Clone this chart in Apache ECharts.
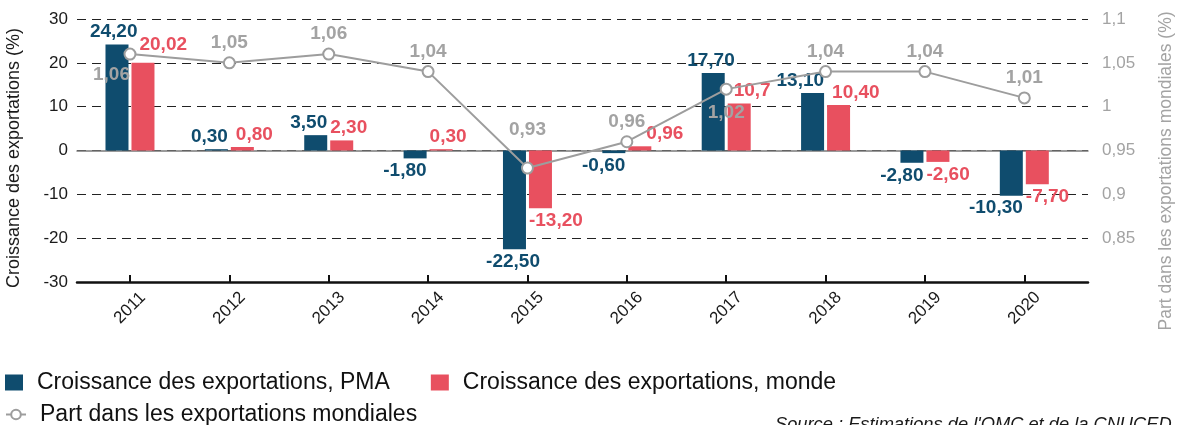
<!DOCTYPE html>
<html>
<head>
<meta charset="utf-8">
<script src="https://cdn.jsdelivr.net/npm/echarts@6/dist/echarts.min.js"></script>
<style>
html,body{margin:0;padding:0;background:#fff;}
#chart{width:1184px;height:425px;}
</style>
</head>
<body>
<div id="chart"></div>
<script>
const years = ['2011','2012','2013','2014','2015','2016','2017','2018','2019','2020'];
const pmaGrowth = [24.20, 0.30, 3.50, -1.80, -22.50, -0.60, 17.70, 13.10, -2.80, -10.30];
const worldGrowth = [20.02, 0.80, 2.30, 0.30, -13.20, 0.96, 10.7, 10.40, -2.60, -7.70];
const worldGrowthText = ['20,02','0,80','2,30','0,30','-13,20','0,96','10,7','10,40','-2,60','-7,70'];
const worldShare = [1.06, 1.05, 1.06, 1.04, 0.93, 0.96, 1.02, 1.04, 1.04, 1.01];

const nameP = 'Croissance des exportations, PMA';
const nameW = 'Croissance des exportations, monde';
const nameS = 'Part dans les exportations mondiales';

const C_BLUE = '#0f4c6e', C_RED = '#e8505f', C_GRAY = '#9d9d9d', C_GRAYTXT = '#a3a3a3';
const FONT = 'Liberation Sans';
const fmt = (v, d) => v.toFixed(d).replace('.', ',');

// label placement tweaks (style only)
const pmaLabelShift = {0: 9, 4: 14, 6: 10};
const worldLabelShift = {0: 8, 1: 5, 5: 18, 6: 6, 7: 5};
const worldLabelLift = {0: 5};
const shareLabelStyle = {
  0: {position: 'bottom', align: 'right', distance: 5, offset: [0, 0]},
  4: {position: 'top', distance: 22},
  6: {position: 'bottom', distance: 8}
};

const chart = echarts.init(document.getElementById('chart'), null, {renderer: 'canvas'});
const labelBase = {show: true, fontFamily: FONT, fontWeight: 'bold', fontSize: 19, distance: 3};

const option = {
  animation: false,
  backgroundColor: '#fff',
  textStyle: {fontFamily: FONT},
  grid: [
    {left: 77, right: 96, top: 19, bottom: 143},
    {left: 80.3, right: 110, top: 19, bottom: 143}
  ],
  xAxis: [
    {type: 'value', gridIndex: 0, min: 0, max: 1,
     axisLine: {show: true, onZero: true, onZeroAxisIndex: 0, lineStyle: {color: '#7a7a7a', width: 1.5}},
     axisTick: {show: false}, axisLabel: {show: false}, splitLine: {show: false}},
    {type: 'value', gridIndex: 0, min: 0, max: 1, position: 'bottom',
     axisLine: {show: true, onZero: false, lineStyle: {color: '#111', width: 2.5}},
     axisTick: {show: false}, axisLabel: {show: false}, splitLine: {show: false}},
    {type: 'category', gridIndex: 1, data: years, position: 'bottom',
     axisLine: {show: false, onZero: false},
     axisTick: {show: true, inside: true, length: 7, alignWithLabel: true, lineStyle: {color: '#111', width: 2}},
     axisLabel: {rotate: 45, align: 'center', verticalAlign: 'middle', margin: 26, fontSize: 17, color: '#1a1a1a', fontFamily: FONT},
     splitLine: {show: false}}
  ],
  yAxis: [
    {type: 'value', gridIndex: 0, min: -30, max: 30, interval: 10, position: 'left',
     axisLine: {show: false}, axisTick: {show: false},
     axisLabel: {margin: 9, fontSize: 17, color: '#1a1a1a', fontFamily: FONT},
     splitLine: {show: true, lineStyle: {type: [9, 6], color: '#222', width: 1}}},
    {type: 'value', gridIndex: 0, min: 0.8, max: 1.1, interval: 0.05, position: 'right',
     axisLine: {show: false}, axisTick: {show: false},
     axisLabel: {margin: 14, fontSize: 17, color: C_GRAYTXT, fontFamily: FONT,
       formatter: v => { const r = Math.round(v * 100) / 100; return r <= 0.8 ? '' : String(r).replace('.', ','); }},
     splitLine: {show: false}},
    {type: 'value', gridIndex: 1, min: -30, max: 30, interval: 10, show: false},
    {type: 'value', gridIndex: 1, min: 0.8, max: 1.1, interval: 0.05, show: false, position: 'right'}
  ],
  legend: [
    {data: [nameP, nameW], left: 5, top: 371, padding: 0, itemWidth: 18, itemHeight: 16, itemGap: 41, icon: 'rect',
     textStyle: {fontSize: 23, color: '#111', fontFamily: FONT, padding: [0, 0, 0, 9]}},
    {data: [nameS], left: 5, top: 403, padding: 0, itemWidth: 20, itemHeight: 12,
     textStyle: {fontSize: 23, color: '#111', fontFamily: FONT, padding: [0, 0, 0, 9]}}
  ],
  graphic: [
    {type: 'text', x: 14, y: 158, rotation: Math.PI / 2,
     style: {text: 'Croissance des exportations (%)', font: '18px "Liberation Sans"', fill: '#1a1a1a', align: 'center', verticalAlign: 'middle'}},
    {type: 'text', x: 1166, y: 171, rotation: Math.PI / 2,
     style: {text: 'Part dans les exportations mondiales (%)', font: '17.5px "Liberation Sans"', fill: C_GRAYTXT, align: 'center', verticalAlign: 'middle'}},
    {type: 'text', x: 775, y: 416,
     style: {text: "Source : Estimations de l'OMC et de la CNUCED", font: 'italic 18.3px "Liberation Sans"', fill: '#1a1a1a', align: 'left', verticalAlign: 'top'}}
  ],
  series: [
    {name: nameP, type: 'bar', xAxisIndex: 2, yAxisIndex: 2, barWidth: 23, barGap: '13%',
     itemStyle: {color: C_BLUE},
     label: Object.assign({}, labelBase, {color: C_BLUE, align: 'right',
       formatter: p => fmt(p.value, 2)}),
     data: pmaGrowth.map((v, i) => ({value: v, label: {position: v < 0 ? 'bottom' : 'top', offset: [11.5 + (pmaLabelShift[i] || 0), 0]}}))},
    {name: nameW, type: 'bar', xAxisIndex: 2, yAxisIndex: 2, barWidth: 23, barGap: '13%',
     itemStyle: {color: C_RED},
     label: Object.assign({}, labelBase, {color: C_RED, align: 'left',
       formatter: p => worldGrowthText[p.dataIndex]}),
     data: worldGrowth.map((v, i) => ({value: v, label: {position: v < 0 ? 'bottom' : 'top', offset: [-11.5 + (worldLabelShift[i] || 0), -(worldLabelLift[i] || 0)]}}))},
    {name: nameS, type: 'line', xAxisIndex: 2, yAxisIndex: 3, z: 5,
     symbol: 'emptyCircle', symbolSize: 11,
     lineStyle: {color: C_GRAY, width: 2}, itemStyle: {color: C_GRAY, borderWidth: 2},
     label: Object.assign({}, labelBase, {color: C_GRAYTXT, position: 'top', distance: 4,
       formatter: p => fmt(p.value, 2)}),
     data: worldShare.map((v, i) => ({value: v, label: shareLabelStyle[i] || {}}))}
  ]
};
chart.setOption(option);
</script>
</body>
</html>
